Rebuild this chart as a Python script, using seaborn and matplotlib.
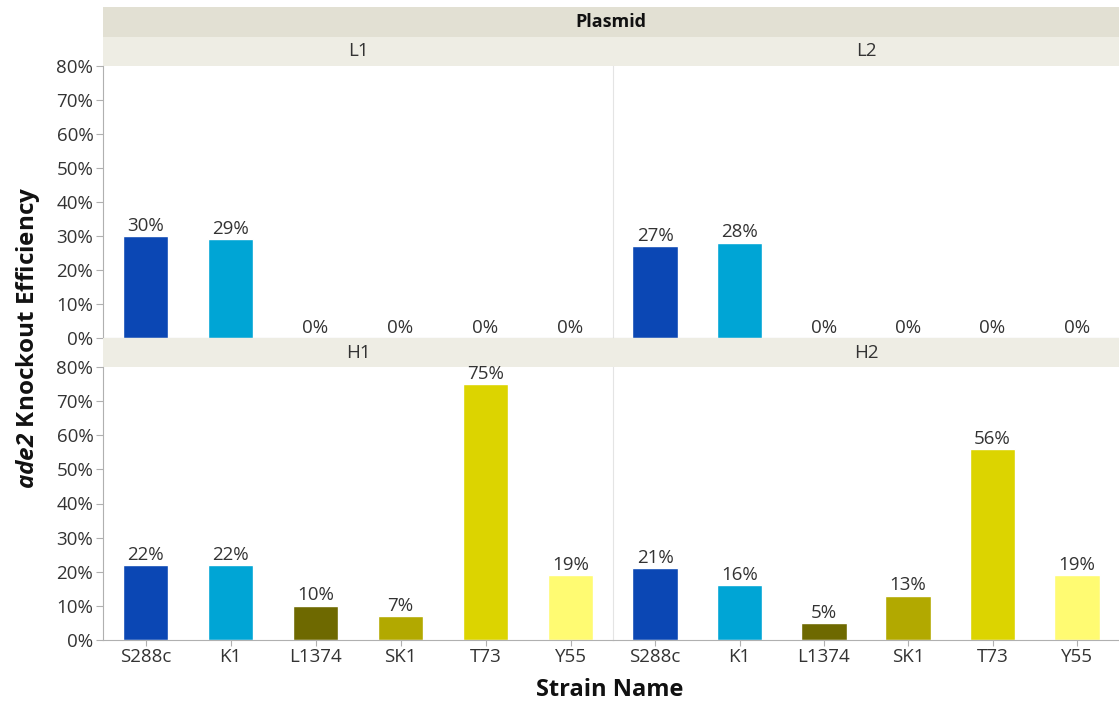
import matplotlib
matplotlib.use("Agg")
import matplotlib.pyplot as plt
from matplotlib.patches import Rectangle
import pandas as pd
import seaborn as sns

# Data
strains = ["S288c", "K1", "L1374", "SK1", "T73", "Y55"]
plasmids = ["L1", "L2", "H1", "H2"]
eff_L1 = [30, 29, 0, 0, 0, 0]
eff_L2 = [27, 28, 0, 0, 0, 0]
eff_H1 = [22, 22, 10, 7, 75, 19]
eff_H2 = [21, 16, 5, 13, 56, 19]
yticks = [0, 10, 20, 30, 40, 50, 60, 70, 80]

colors = ["#0b47b4", "#00a5d5", "#6e6900", "#b2a900", "#dcd400", "#fffb72"]

rows = []
for p, vals in zip(plasmids, [eff_L1, eff_L2, eff_H1, eff_H2]):
    for s, v in zip(strains, vals):
        rows.append({"Plasmid": p, "Strain": s, "Eff": v})
df = pd.DataFrame(rows)

sns.set_style("white")
plt.rcParams["font.family"] = ["Open Sans", "DejaVu Sans"]
plt.rcParams["mathtext.fontset"] = "custom"
plt.rcParams["mathtext.bfit"] = "Open Sans:bold:italic"

W, H = 1119, 703
fig = plt.figure(figsize=(W / 100, H / 100), dpi=100)


def px(x0, y0, x1, y1):
    return [x0 / W, 1 - y1 / H, (x1 - x0) / W, (y1 - y0) / H]


txt = "#333333"
outer_strip = "#e2e0d3"
inner_strip = "#eeede4"
spine = "#b0b0b0"
fs = 13.5

# outer "Plasmid" strip
sa = fig.add_axes(px(103, 7, 1119, 37))
sa.set_axis_off()
sa.add_patch(Rectangle((0, 0), 1, 1, color=outer_strip, transform=sa.transAxes))
sa.text(0.5, 0.5, "Plasmid", ha="center", va="center", fontsize=13,
        fontweight="bold", color="#111111")

panel_x = [(103, 613), (613, 1119)]
panel_y = [(66, 338), (367, 640)]
strip_y = [(37, 66), (338, 367)]

for i, p in enumerate(plasmids):
    r, c = divmod(i, 2)
    x0, x1 = panel_x[c]
    s0, s1 = strip_y[r]
    st = fig.add_axes(px(x0, s0, x1, s1))
    st.set_axis_off()
    st.add_patch(Rectangle((0, 0), 1, 1, color=inner_strip, transform=st.transAxes))
    st.text(0.5, 0.5, p, ha="center", va="center", fontsize=fs, color=txt)

    y0, y1 = panel_y[r]
    ax = fig.add_axes(px(x0, y0, x1, y1))
    sub = df[df["Plasmid"] == p]
    sns.barplot(data=sub, x="Strain", y="Eff", hue="Strain", order=strains,
                hue_order=strains, palette=colors, width=0.54, dodge=False,
                legend=False, ax=ax, saturation=1)
    for cont in ax.containers:
        ax.bar_label(cont, labels=[f"{v:.0f}%" for v in cont.datavalues],
                     padding=1, fontsize=fs, color=txt)
    ax.set_ylim(0, 80)
    ax.set_xlim(-0.5, 5.5)
    ax.set_xlabel("")
    ax.set_ylabel("")
    for side in ["top", "right"]:
        ax.spines[side].set_visible(False)
    ax.spines["bottom"].set_color(spine)
    if c == 0:
        ax.spines["left"].set_color(spine)
        ax.set_yticks(yticks)
        ax.set_yticklabels([f"{t}%" for t in yticks])
        ax.tick_params(axis="y", length=5, color=spine, labelsize=fs,
                       labelcolor=txt, pad=2, left=True)
    else:
        ax.spines["left"].set_color("#e4e4e4")
        ax.set_yticks(yticks)
        ax.tick_params(axis="y", left=False, labelleft=False)
    if r == 1:
        ax.tick_params(axis="x", length=4, color=spine, labelsize=fs,
                       labelcolor=txt, pad=2, bottom=True)
    else:
        ax.tick_params(axis="x", bottom=False, labelbottom=False)

fig.text(610 / W, 1 - 690 / H, "Strain Name", ha="center", va="center",
         fontsize=17, fontweight="bold", color="#111111")
fig.text(28 / W, 1 - 338 / H, r"$\mathbfit{ade2}$ Knockout Efficiency",
         ha="center", va="center", rotation=90, fontsize=17.5,
         fontweight="bold", color="#111111")

fig.savefig("out.png", dpi=100)
